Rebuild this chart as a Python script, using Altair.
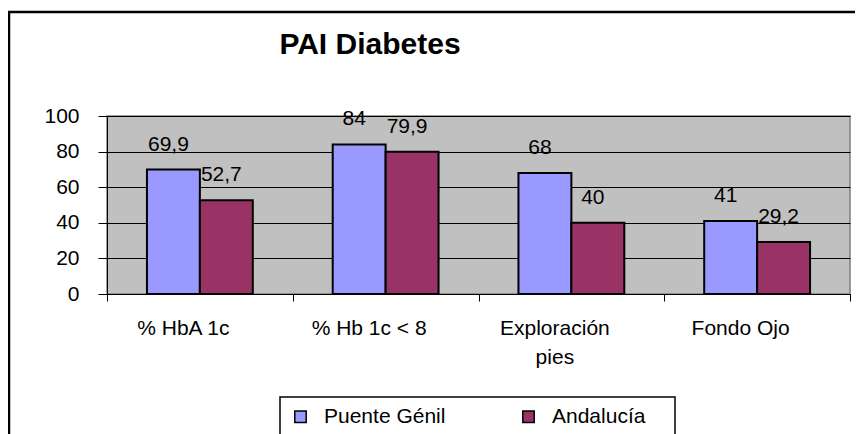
import altair as alt
import pandas as pd

title_text = "PAI Diabetes"
categories = ["% HbA 1c", "% Hb 1c < 8", "Exploración pies", "Fondo Ojo"]
series_names = ["Puente Génil", "Andalucía"]
puente_genil = [69.9, 84, 68, 41]
andalucia = [52.7, 79.9, 40, 29.2]
y_ticks = [0, 20, 40, 60, 80, 100]

rows = []
for name, vals in zip(series_names, [puente_genil, andalucia]):
    for c, v in zip(categories, vals):
        lab = ("%g" % v).replace(".", ",")
        rows.append({"cat": c, "serie": name, "value": v, "label": lab})
df = pd.DataFrame(rows)

FONT = "Liberation Sans"
W, H = 743, 178

x_axis = alt.Axis(labelAngle=0, tickBand="extent", tickSize=7,
                  labelPadding=16, labelOffset=-17,
                  labelFontSize=21, labelFont=FONT, labelColor="black",
                  labelLineHeight=29,
                  labelExpr="datum.label == 'Exploración pies' ? ['Exploración', 'pies'] : datum.label",
                  domainColor="black", tickColor="black", grid=False)
y_axis = alt.Axis(values=y_ticks, tickSize=9, labelPadding=19, labelOverlap=False,
                  labelFontSize=21, labelFont=FONT, labelColor="black",
                  domainColor="black", tickColor="black",
                  grid=True, gridColor="black", gridWidth=1)
x_enc = alt.X("cat:N", sort=categories, title=None,
              scale=alt.Scale(paddingInner=0, paddingOuter=0), axis=x_axis)
xo_enc = alt.XOffset("serie:N", sort=series_names,
                     scale=alt.Scale(paddingOuter=0.755, paddingInner=0))
y_enc = alt.Y("value:Q", title=None,
              scale=alt.Scale(domain=[0, 100], nice=False), axis=y_axis)

bars = alt.Chart(df).mark_bar(stroke="black", strokeWidth=2).encode(
    x=x_enc, xOffset=xo_enc, y=y_enc,
    color=alt.Color("serie:N", sort=series_names,
                    scale=alt.Scale(domain=series_names, range=["#9999FF", "#993366"]),
                    legend=alt.Legend(title=None, orient="none", legendX=183, legendY=290,
                                      direction="horizontal", columnPadding=72,
                                      symbolType="square", symbolSize=130,
                                      symbolStrokeColor="black", symbolStrokeWidth=1.5,
                                      labelFontSize=21, labelFont=FONT, labelColor="black",
                                      labelOffset=13, padding=0)),
)

texts = alt.Chart(df).mark_text(dy=-25, dx=-5, baseline="middle", fontSize=21,
                                font=FONT, color="black").encode(
    x=x_enc, xOffset=xo_enc, y=y_enc, text="label:N",
)

one = alt.Data(values=[{"t": title_text}])
frame = alt.Chart(one).mark_rect(fill=None, stroke="black", strokeWidth=2.5).encode(
    x=alt.value(-98), x2=alt.value(1000), y=alt.value(-104), y2=alt.value(500))
legend_box = alt.Chart(one).mark_rect(fill=None, stroke="black", strokeWidth=1.5).encode(
    x=alt.value(173), x2=alt.value(568), y=alt.value(281), y2=alt.value(400))
title = alt.Chart(one).mark_text(fontSize=30, font=FONT, fontWeight="bold", color="black",
                                 align="center", baseline="middle").encode(
    x=alt.value(263), y=alt.value(-71), text="t:N")

chart = alt.layer(bars, texts, frame, legend_box, title).properties(
    width=W, height=H,
    autosize=alt.AutoSizeParams(type="none"),
    padding={"left": 99, "top": 108, "right": 5, "bottom": 140},
).configure(background="white"
).configure_view(fill="#C0C0C0", stroke="#808080", strokeWidth=1.5
).configure_axis(labelOverlap=False)

chart.save("out.html", embed_options={"renderer": "svg", "actions": False})
